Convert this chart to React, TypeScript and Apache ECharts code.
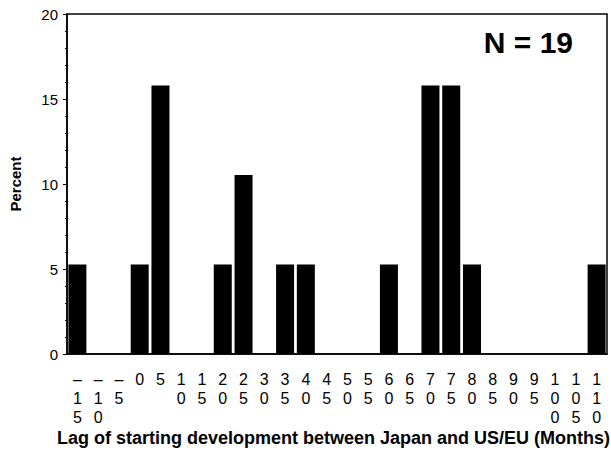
import React, { useEffect, useRef } from "react";
import * as echarts from "echarts";

const categories = ["-15","-10","-5","0","5","10","15","20","25","30","35","40","45","50","55","60","65","70","75","80","85","90","95","100","105","110"];
const percents = [5.26,0,0,5.26,15.79,0,0,5.26,10.53,0,5.26,5.26,0,0,0,5.26,0,15.79,15.79,5.26,0,0,0,0,0,5.26];
const yTicks = [0, 5, 10, 15, 20];
const annotation = "N = 19";
const xTitle = "Lag of starting development between Japan and US/EU (Months)";
const yTitle = "Percent";

const FONT = "Liberation Sans, Arial, sans-serif";

export default function App() {
  const ref = useRef<HTMLDivElement>(null);
  useEffect(() => {
    const chart = echarts.init(ref.current!, null, { renderer: "svg" });
    chart.setOption({
      animation: false,
      backgroundColor: "#fff",
      textStyle: { fontFamily: FONT },
      grid: { left: 66, right: 4, top: 14, bottom: 99, show: true, borderColor: "#000", borderWidth: 1.5 },
      xAxis: {
        type: "category",
        data: categories,
        boundaryGap: true,
        axisLine: { lineStyle: { color: "#000", width: 1.5 } },
        axisTick: { show: false },
        axisLabel: {
          interval: 0,
          color: "#000",
          fontSize: 16,
          lineHeight: 19,
          margin: 16,
          formatter: (v: string) => v.split("").map((c) => (c === "-" ? "–" : c)).join("\n"),
        },
      },
      yAxis: {
        type: "value",
        min: yTicks[0],
        max: yTicks[yTicks.length - 1],
        interval: 5,
        splitLine: { show: false },
        axisLine: { show: true, lineStyle: { color: "#000", width: 1.5 } },
        axisTick: { show: true, length: 4, lineStyle: { color: "#000" } },
        minorTick: { show: true, splitNumber: 5, length: 2, lineStyle: { color: "#000" } },
        axisLabel: { color: "#000", fontSize: 15, margin: 9 },
        name: yTitle,
        nameLocation: "middle",
        nameGap: 44,
        nameTextStyle: { color: "#000", fontSize: 15, fontWeight: "bold" },
      },
      series: [
        {
          type: "bar",
          data: percents,
          barWidth: 18,
          itemStyle: { color: "#000" },
        },
      ],
      graphic: [
        {
          type: "text",
          right: 38,
          top: 27,
          style: { text: annotation, fontSize: 30, fontWeight: "bold", fill: "#000", fontFamily: FONT },
        },
        {
          type: "text",
          left: 57,
          top: 429,
          style: { text: xTitle, fontSize: 18, fontWeight: "bold", fill: "#000", fontFamily: FONT },
        },
      ],
    });
    return () => chart.dispose();
  }, []);
  return <div ref={ref} style={{ width: 611, height: 453, position: "absolute", left: 0, top: 0 }} />;
}
